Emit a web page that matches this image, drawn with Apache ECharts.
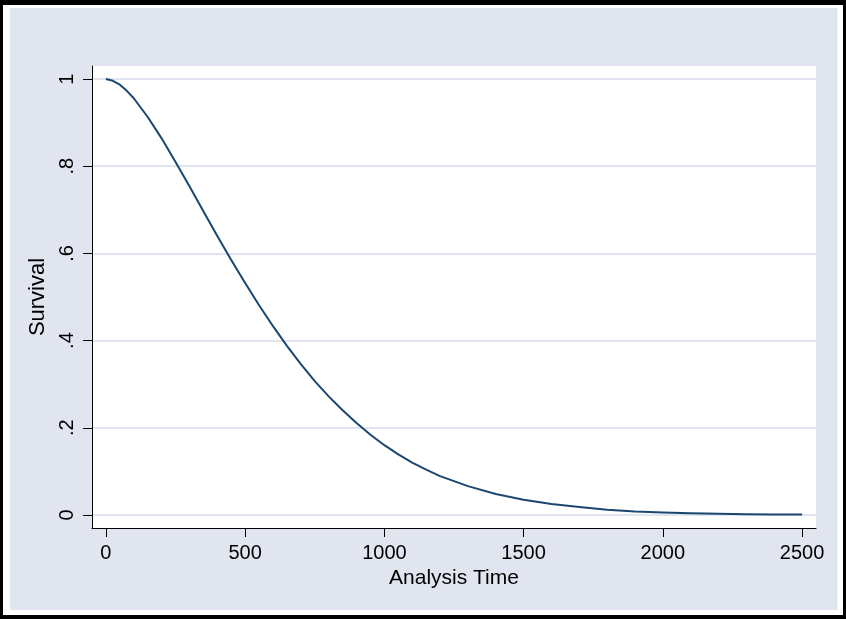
<!DOCTYPE html>
<html>
<head>
<meta charset="utf-8">
<script src="https://cdn.jsdelivr.net/npm/echarts@6/dist/echarts.min.js"></script>
<style>
html,body{margin:0;padding:0;background:#fff;}
#c{width:846px;height:619px;}
</style>
</head>
<body>
<div id="c"></div>
<script>
// Analysis time (x) and estimated survival (y)
var times = [0,25,50,75,100,150,200,250,300,350,400,450,500,550,600,650,700,750,800,850,900,950,1000,1050,1100,1150,1200,1300,1400,1500,1600,1700,1800,1900,2000,2100,2200,2300,2400,2500];
var survival = [1.0,0.996,0.987,0.973,0.956,0.913,0.864,0.810,0.754,0.697,0.640,0.585,0.532,0.481,0.433,0.388,0.346,0.307,0.272,0.240,0.211,0.184,0.160,0.139,0.120,0.104,0.089,0.066,0.048,0.035,0.025,0.018,0.012,0.008,0.0055,0.0037,0.0025,0.0016,0.0010,0.0007];
var xTicks = [0,500,1000,1500,2000,2500];
var xTickLabels = ['0','500','1000','1500','2000','2500'];
var yTicks = [0,0.2,0.4,0.6,0.8,1];
var yTickLabels = ['0','.2','.4','.6','.8','1'];
var xTitle = 'Analysis Time';
var yTitle = 'Survival';

var data = times.map(function(t,i){return [t, survival[i]];});
var font = '"Liberation Sans", Arial, Helvetica, sans-serif';
var chart = echarts.init(document.getElementById('c'), null, {renderer:'canvas'});
chart.setOption({
  animation:false,
  backgroundColor:'#000000',
  graphic:[
    {type:'rect', z:-10, shape:{x:3,y:5,width:840,height:610}, style:{fill:'#ffffff'}},
    {type:'rect', z:-9, shape:{x:10,y:8,width:827.5,height:602}, style:{fill:'#E0E5EF'}},
    {type:'rect', z:-8, shape:{x:92,y:66,width:724,height:462}, style:{fill:'#ffffff'}}
  ],
  grid:{left:92, top:66, right:30, bottom:91, containLabel:false},
  xAxis:{
    type:'value', min:-50, max:2550,
    name:xTitle, nameLocation:'middle', nameGap:36,
    nameTextStyle:{fontFamily:font, fontSize:21, color:'#000'},
    axisLine:{show:true, onZero:false, lineStyle:{color:'#000', width:1}},
    axisTick:{show:true, length:9, inside:false, customValues:xTicks, lineStyle:{color:'#000', width:1}},
    axisLabel:{customValues:xTicks, margin:15, fontFamily:font, fontSize:20, color:'#000',
      formatter:function(v){var i=xTicks.indexOf(Math.round(v)); return i>=0?xTickLabels[i]:'';}},
    splitLine:{show:false}
  },
  yAxis:{
    type:'value', min:-0.03, max:1.03,
    name:yTitle, nameLocation:'middle', nameGap:38, nameRotate:90,
    nameTextStyle:{fontFamily:font, fontSize:22, color:'#000'},
    axisLine:{show:true, onZero:false, lineStyle:{color:'#000', width:1}},
    axisTick:{show:true, length:9, inside:false, customValues:yTicks, lineStyle:{color:'#000', width:1}},
    axisLabel:{customValues:yTicks, rotate:90, margin:15, fontFamily:font, fontSize:20, color:'#000',
      formatter:function(v){var i=yTicks.indexOf(Math.round(v*10)/10); return i>=0?yTickLabels[i]:'';}},
    splitLine:{show:true, lineStyle:{color:'#E0E5EF', width:2}}
  },
  series:[{
    type:'line', data:data, showSymbol:false, smooth:false,
    lineStyle:{color:'#1A476F', width:2, join:'round'}
  }]
});
</script>
</body>
</html>
